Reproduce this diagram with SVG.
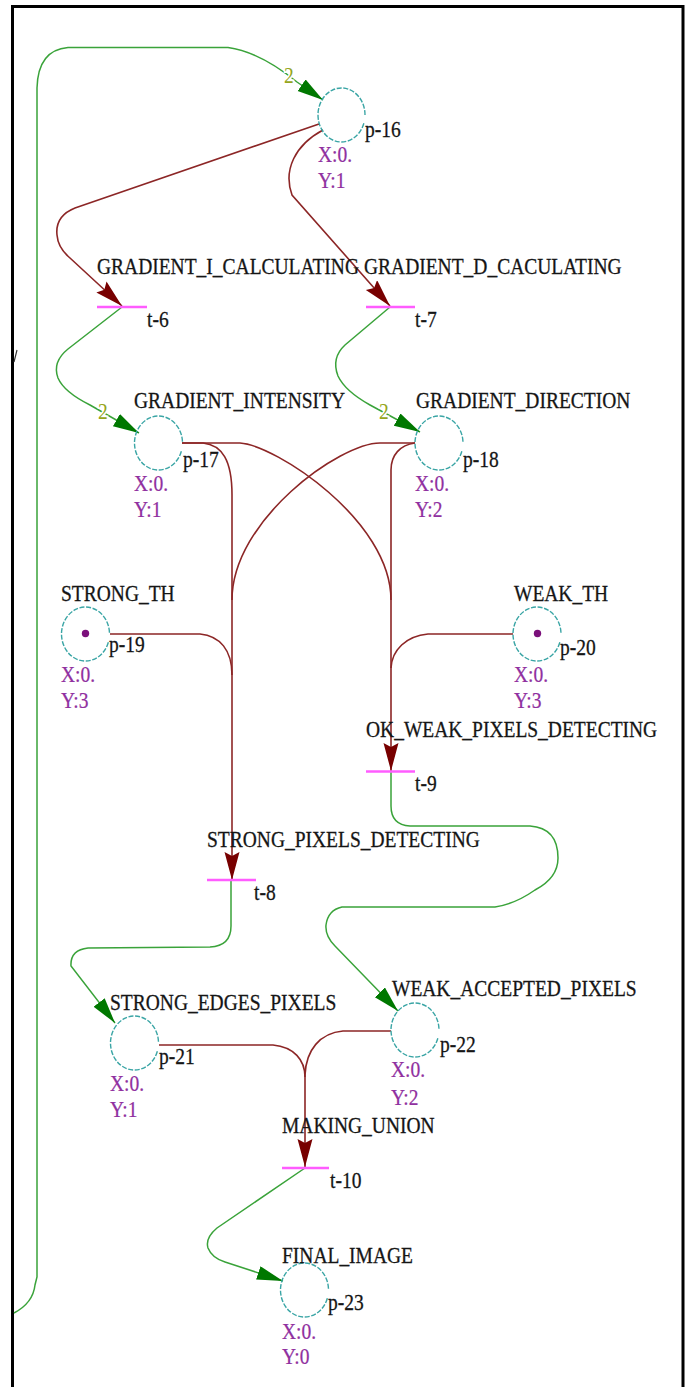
<svg xmlns="http://www.w3.org/2000/svg" width="691" height="1387" viewBox="0 0 691 1387">
  <style>
    .place { fill: none; stroke: #3aa5a5; stroke-width: 1.4; stroke-dasharray: 5 1.6; }
    .token { fill: #7b107b; }
    .bar { stroke: #ff5cff; stroke-width: 2.5; }
    .txt { font-family: "Liberation Serif", "Times New Roman", serif; font-size: 19.5px; }
    .name { fill: #151515; stroke: #151515; stroke-width: 0.25px; }
    .xy { fill: #9030a0; stroke: #9030a0; stroke-width: 0.2px; }
    .w { fill: #95a51c; paint-order: stroke; stroke: #ffffff; stroke-width: 3px; }
    .in { fill: none; stroke: #8c2626; stroke-width: 1.6; }
    .out { fill: none; stroke: #3aa33a; stroke-width: 1.5; }
    .frame { stroke: #000000; stroke-width: 3; }
  </style>
  <defs>
    <marker id="ahG" markerUnits="userSpaceOnUse" markerWidth="30" markerHeight="16" refX="26" refY="7" orient="auto">
      <path d="M0,0 L26,7 L0,14 Z" fill="#007800"/>
    </marker>
    <marker id="ahR" markerUnits="userSpaceOnUse" markerWidth="32" markerHeight="18" refX="28" refY="7.5" orient="auto">
      <path d="M0,0 L28,7.5 L0,15 L4,7.5 Z" fill="#780000"/>
    </marker>
  </defs>

  <rect width="691" height="1387" fill="#ffffff"/>

  <!-- frame -->
  <g id="frame">
    <line class="frame" x1="11" y1="6.5" x2="684" y2="6.5"/>
    <line class="frame" x1="12.5" y1="5" x2="12.5" y2="1387"/>
    <line class="frame" x1="683" y1="5" x2="683" y2="1387"/>
    <line x1="14" y1="362" x2="17" y2="350" stroke="#333333" stroke-width="1.2"/>
  </g>

  <!-- arcs -->
  <g id="connectors">
    <!-- output arcs (transition to place) -->
    <path class="out" marker-end="url(#ahG)" d="M 14 1313 Q 33 1303 35 1285 L 37 1277 L 37 88 Q 38 50 68 47.5 L 228 47.5 Q 260 52 297 82 L 323 100"/>
    <path class="out" marker-end="url(#ahG)" d="M 122 307 L 68 349 Q 52 362 58 378 Q 64 392 90 405 L 139 433"/>
    <path class="out" marker-end="url(#ahG)" d="M 390 307 L 345 345 Q 331 358 338 376 Q 345 391 370 405 L 420 432"/>
    <path class="out" marker-end="url(#ahG)" d="M 231 880 L 231 926 Q 231 946 210 947 L 88 948 Q 70 950 71 966 L 115 1023"/>
    <path class="out" marker-end="url(#ahG)" d="M 391 771 L 391 806 Q 391 825 410 826 L 530 826 Q 558 828 558 858 Q 558 878 535 890 Q 515 904 495 907 L 342 907 Q 328 910 326 925 Q 325 936 335 946 L 398 1011"/>
    <path class="out" marker-end="url(#ahG)" d="M 305 1168 L 217 1228 Q 205 1238 208 1248 Q 212 1258 225 1262 L 283 1281"/>

    <!-- input arcs (place to transition) -->
    <path class="in" marker-end="url(#ahR)" d="M 319 124 L 75 208 Q 55 216 57 235 Q 58 248 70 258 L 122 306"/>
    <path class="in" marker-end="url(#ahR)" d="M 323 130 C 295 145 283 170 292 195 L 390 306"/>
    <path class="in" d="M 182 443 L 203 443 C 222 445 232 460 232 495"/>
    <path class="in" marker-end="url(#ahR)" d="M 182 443 L 240 443 C 275 445 391 520 391 600 L 391 771"/>
    <path class="in" d="M 415 443 L 380 443 C 340 443 232 520 232 600"/>
    <path class="in" d="M 415 443 C 400 445 391 455 391 470 L 391 600"/>
    <path class="in" d="M 110 634 L 200 634 C 220 636 232 650 232 675"/>
    <path class="in" marker-end="url(#ahR)" d="M 232 495 L 232 880"/>
    <path class="in" d="M 513 634 L 428 634 C 406 636 392 650 391 668"/>
    <path class="in" d="M 159 1045 L 273 1045 C 294 1047 305 1060 305 1077"/>
    <path class="in" marker-end="url(#ahR)" d="M 391 1031 L 343 1031 C 320 1033 306 1050 305 1075 L 305 1167"/>

    <!-- arc weights -->
    <text class="txt w" transform="translate(284,83) scale(1,1.15)">2</text>
    <text class="txt w" transform="translate(98,419) scale(1,1.15)">2</text>
    <text class="txt w" transform="translate(379,419) scale(1,1.15)">2</text>
  </g>

  <!-- places -->
  <g id="p-16">
    <path class="place" d="M 363.85 123.3 A 23.5 27 0 1 1 365 115"/>
    <text class="txt name" transform="translate(365,137) scale(1,1.15)">p-16</text>
    <text class="txt xy" transform="translate(318,162) scale(1,1.15)">X:0.</text>
    <text class="txt xy" transform="translate(318,188) scale(1,1.15)">Y:1</text>
  </g>
  <g id="p-17">
    <path class="place" d="M 181.35 451.3 A 24 27 0 1 1 182.5 443"/>
    <text class="txt name" transform="translate(134,408) scale(1,1.15)">GRADIENT_INTENSITY</text>
    <text class="txt name" transform="translate(183,467) scale(1,1.15)">p-17</text>
    <text class="txt xy" transform="translate(134,491) scale(1,1.15)">X:0.</text>
    <text class="txt xy" transform="translate(134,517) scale(1,1.15)">Y:1</text>
  </g>
  <g id="p-18">
    <path class="place" d="M 461.85 451.3 A 24 27 0 1 1 463 443"/>
    <text class="txt name" transform="translate(416,408) scale(1,1.15)">GRADIENT_DIRECTION</text>
    <text class="txt name" transform="translate(463,467) scale(1,1.15)">p-18</text>
    <text class="txt xy" transform="translate(415,491) scale(1,1.15)">X:0.</text>
    <text class="txt xy" transform="translate(415,517) scale(1,1.15)">Y:2</text>
  </g>
  <g id="p-19">
    <path class="place" d="M 108.35 642.3 A 24 27 0 1 1 109.5 634"/>
    <circle class="token" cx="85.5" cy="633.5" r="3.7"/>
    <text class="txt name" transform="translate(61,601) scale(1,1.15)">STRONG_TH</text>
    <text class="txt name" transform="translate(109,652) scale(1,1.15)">p-19</text>
    <text class="txt xy" transform="translate(61,682) scale(1,1.15)">X:0.</text>
    <text class="txt xy" transform="translate(61,708) scale(1,1.15)">Y:3</text>
  </g>
  <g id="p-20">
    <path class="place" d="M 559.85 642.3 A 24 27 0 1 1 561 634"/>
    <circle class="token" cx="537.5" cy="633.5" r="3.7"/>
    <text class="txt name" transform="translate(514,601) scale(1,1.15)">WEAK_TH</text>
    <text class="txt name" transform="translate(560,655) scale(1,1.15)">p-20</text>
    <text class="txt xy" transform="translate(514,682) scale(1,1.15)">X:0.</text>
    <text class="txt xy" transform="translate(514,708) scale(1,1.15)">Y:3</text>
  </g>
  <g id="p-21">
    <path class="place" d="M 157.35 1051.3 A 24 27 0 1 1 158.5 1043"/>
    <text class="txt name" transform="translate(110,1010) scale(1,1.15)">STRONG_EDGES_PIXELS</text>
    <text class="txt name" transform="translate(159,1064) scale(1,1.15)">p-21</text>
    <text class="txt xy" transform="translate(110,1091) scale(1,1.15)">X:0.</text>
    <text class="txt xy" transform="translate(110,1117) scale(1,1.15)">Y:1</text>
  </g>
  <g id="p-22">
    <path class="place" d="M 437.85 1038.3 A 24 27 0 1 1 439 1030"/>
    <text class="txt name" transform="translate(392,996) scale(1,1.15)">WEAK_ACCEPTED_PIXELS</text>
    <text class="txt name" transform="translate(440,1052) scale(1,1.15)">p-22</text>
    <text class="txt xy" transform="translate(391,1077) scale(1,1.15)">X:0.</text>
    <text class="txt xy" transform="translate(391,1105) scale(1,1.15)">Y:2</text>
  </g>
  <g id="p-23">
    <path class="place" d="M 327.35 1298.3 A 24 27 0 1 1 328.5 1290"/>
    <text class="txt name" transform="translate(282,1263) scale(1,1.15)">FINAL_IMAGE</text>
    <text class="txt name" transform="translate(328,1310) scale(1,1.15)">p-23</text>
    <text class="txt xy" transform="translate(282,1339) scale(1,1.15)">X:0.</text>
    <text class="txt xy" transform="translate(282,1364) scale(1,1.15)">Y:0</text>
  </g>

  <!-- transitions -->
  <g id="t-6">
    <line class="bar" x1="97" y1="307" x2="147" y2="307"/>
    <text class="txt name" transform="translate(97,274) scale(1,1.15)">GRADIENT_I_CALCULATING</text>
    <text class="txt name" transform="translate(147,327) scale(1,1.15)">t-6</text>
  </g>
  <g id="t-7">
    <line class="bar" x1="366" y1="307" x2="415" y2="307"/>
    <text class="txt name" transform="translate(364,274) scale(1,1.15)">GRADIENT_D_CACULATING</text>
    <text class="txt name" transform="translate(415,327) scale(1,1.15)">t-7</text>
  </g>
  <g id="t-9">
    <line class="bar" x1="366" y1="771.5" x2="415" y2="771.5"/>
    <text class="txt name" transform="translate(366,737) scale(1,1.15)">OK_WEAK_PIXELS_DETECTING</text>
    <text class="txt name" transform="translate(415,791) scale(1,1.15)">t-9</text>
  </g>
  <g id="t-8">
    <line class="bar" x1="207" y1="880" x2="256" y2="880"/>
    <text class="txt name" transform="translate(207,847) scale(1,1.15)">STRONG_PIXELS_DETECTING</text>
    <text class="txt name" transform="translate(254,900) scale(1,1.15)">t-8</text>
  </g>
  <g id="t-10">
    <line class="bar" x1="282" y1="1168" x2="329" y2="1168"/>
    <text class="txt name" transform="translate(282,1133) scale(1,1.15)">MAKING_UNION</text>
    <text class="txt name" transform="translate(330,1188) scale(1,1.15)">t-10</text>
  </g>
</svg>
